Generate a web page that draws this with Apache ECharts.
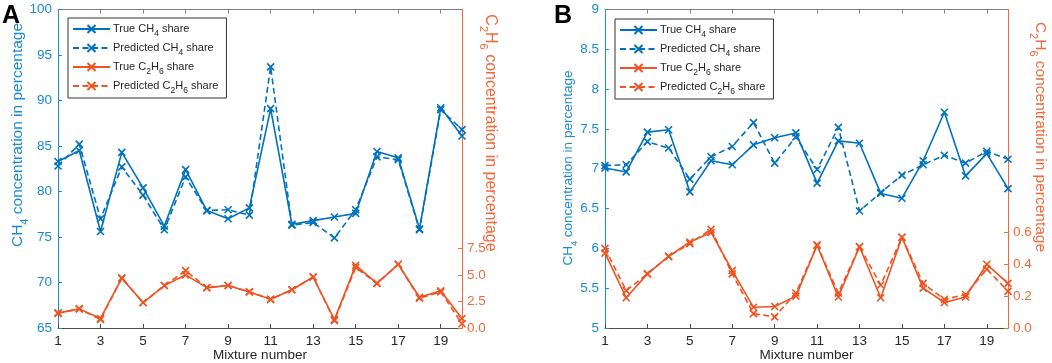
<!DOCTYPE html>
<html>
<head>
<meta charset="utf-8">
<script src="https://cdn.jsdelivr.net/npm/echarts@6/dist/echarts.min.js"></script>
<style>
html, body { margin: 0; padding: 0; background: #fff; }
#chart { width: 1052px; height: 363px; }
</style>
</head>
<body>
<div id="chart"></div>
<script>
// mixture numbers 1..20
var mixtures = ['1','2','3','4','5','6','7','8','9','10','11','12','13','14','15','16','17','18','19','20'];

// panel A
var trueCH4_A = [83.3, 84.5, 75.6, 84.3, 80.4, 76.2, 82.4, 77.9, 77.0, 78.2, 89.1, 76.4, 76.8, 77.2, 77.6, 84.4, 83.7, 75.9, 89.2, 86.1];
var predCH4_A = [82.8, 85.2, 77.0, 82.7, 79.6, 75.8, 81.6, 77.9, 78.0, 77.4, 93.7, 76.3, 76.6, 74.9, 78.0, 83.8, 83.5, 75.8, 89.0, 86.8];
var trueC2H6_A = [1.4, 1.8, 0.9, 4.7, 2.4, 4.0, 5.0, 3.8, 4.0, 3.4, 2.7, 3.6, 4.8, 0.8, 5.9, 4.2, 6.0, 2.9, 3.5, 0.9];
var predC2H6_A = [1.4, 1.8, 0.8, 4.7, 2.4, 4.0, 5.4, 3.8, 4.0, 3.4, 2.7, 3.6, 4.8, 0.7, 5.7, 4.2, 6.0, 2.8, 3.4, 0.4];

// panel B
var trueCH4_B = [7.01, 6.96, 7.46, 7.49, 6.71, 7.10, 7.05, 7.30, 7.39, 7.45, 6.82, 7.35, 7.32, 6.69, 6.63, 7.10, 7.71, 6.91, 7.19, 6.75];
var predCH4_B = [7.04, 7.05, 7.34, 7.26, 6.87, 7.15, 7.28, 7.58, 7.07, 7.40, 6.99, 7.52, 6.47, 6.70, 6.92, 7.05, 7.17, 7.07, 7.22, 7.12];
var trueC2H6_B = [0.47, 0.19, 0.34, 0.45, 0.54, 0.60, 0.36, 0.13, 0.135, 0.20, 0.52, 0.195, 0.51, 0.19, 0.57, 0.25, 0.16, 0.195, 0.40, 0.28];
var predC2H6_B = [0.50, 0.235, 0.34, 0.45, 0.53, 0.62, 0.34, 0.09, 0.07, 0.22, 0.52, 0.22, 0.51, 0.27, 0.57, 0.28, 0.18, 0.21, 0.37, 0.23];

// right axis tick labels
var rightTicks_A = [0, 2.5, 5, 7.5];
var rightTicks_B = [0, 0.2, 0.4, 0.6];

var seriesNames = ['True CH4 share', 'Predicted CH4 share', 'True C2H6 share', 'Predicted C2H6 share'];

var BLUE = '#0072BD';
var BLUE_AX = '#1a8ad4';
var ORANGE = '#EF5320';
var ORANGE_AX = '#F26A3A';
var DARK = '#262626';
var FONT = '"Liberation Sans", Arial, sans-serif';
var CROSS = 'path://M0,0L10,10M10,0L0,10';

function richName(name) {
	return name.replace('C2H6', 'C{s|2}H{s|6}').replace('CH4', 'CH{s|4}');
}

function makeSeries(name, data, xi, yi, color, dashed) {
	return {
		name : name,
		type : 'line',
		xAxisIndex : xi,
		yAxisIndex : yi,
		data : data,
		symbol : CROSS,
		symbolSize : 7,
		showSymbol : true,
		itemStyle : {
			color : color,
			borderColor : color,
			borderWidth : 1.6
		},
		lineStyle : {
			color : color,
			width : 1.6,
			type : dashed ? [6, 3.5] : 'solid'
		},
		emphasis : { disabled : true },
		animation : false
	};
}

function bottomAxis(gi) {
	return {
		type : 'category',
		gridIndex : gi,
		data : mixtures,
		boundaryGap : false,
		position : 'bottom',
		axisLine : { lineStyle : { color : '#4d4d4d', width : 1 } },
		axisTick : { inside : true, length : 4, interval : 1, lineStyle : { color : '#4d4d4d' } },
		axisLabel : { interval : 1, color : DARK, fontSize : 13.5, fontFamily : FONT, margin : 6 },
		name : 'Mixture number',
		nameLocation : 'middle',
		nameGap : 20,
		nameMoveOverlap : false,
		nameTextStyle : { color : DARK, fontSize : 13.5, fontFamily : FONT },
		splitLine : { show : false }
	};
}

function topAxis(gi) {
	return {
		type : 'category',
		gridIndex : gi,
		data : mixtures,
		boundaryGap : false,
		position : 'top',
		axisLine : { lineStyle : { color : '#808080', width : 1 } },
		axisTick : { inside : true, length : 4, interval : 1, lineStyle : { color : '#808080' } },
		axisLabel : { show : false },
		splitLine : { show : false }
	};
}

function leftAxis(gi, min, max, interval) {
	return {
		type : 'value',
		gridIndex : gi,
		position : 'left',
		min : min,
		max : max,
		interval : interval,
		axisLine : { show : true, lineStyle : { color : BLUE_AX } },
		axisTick : { show : true, inside : true, length : 4, lineStyle : { color : BLUE_AX } },
		axisLabel : { color : BLUE_AX, fontSize : 13.5, fontFamily : FONT, margin : 6 },
		splitLine : { show : false }
	};
}

function rightAxis(gi, max, ticks, digits) {
	return {
		type : 'value',
		gridIndex : gi,
		position : 'right',
		min : 0,
		max : max,
		axisLine : { show : true, lineStyle : { color : ORANGE_AX } },
		axisTick : { show : true, inside : true, length : 4, customValues : ticks, lineStyle : { color : ORANGE_AX } },
		axisLabel : {
			customValues : ticks,
			color : ORANGE_AX,
			fontSize : 13.5,
			fontFamily : FONT,
			margin : 5,
			formatter : function(v) { return Number(v).toFixed(digits); }
		},
		splitLine : { show : false }
	};
}

function legendBox(left, top) {
	return {
		orient : 'vertical',
		left : left,
		top : top,
		data : seriesNames,
		itemWidth : 37,
		itemHeight : 10,
		itemGap : 1,
		padding : [2, 8, 3, 4],
		borderColor : '#333',
		borderWidth : 1,
		backgroundColor : '#fff',
		selectedMode : false,
		formatter : richName,
		textStyle : {
			color : DARK,
			fontSize : 11,
			fontFamily : FONT,
			lineHeight : 14,
			padding : [0, 0, 0, -2],
			rich : {
				s : { fontSize : 8.5, fontFamily : FONT, color : DARK, verticalAlign : 'bottom', lineHeight : 18 }
			}
		}
	};
}

function axisTitle(x, y, rot, size, text, color) {
	return {
		type : 'text',
		x : x,
		y : y,
		rotation : rot,
		style : {
			text : text,
			fill : color,
			fontSize : size,
			fontFamily : FONT,
			lineHeight : size + 2,
			align : 'center',
			verticalAlign : 'middle',
			rich : {
				s : { fontSize : Math.round(size * 0.7), fontFamily : FONT, fill : color, verticalAlign : 'bottom', lineHeight : size + 9 }
			}
		}
	};
}

var option = {
	backgroundColor : '#fff',
	animation : false,
	grid : [
		{ left : 58, top : 9.5, width : 404, height : 318.5, outerBoundsMode : 'none', containLabel : false },
		{ left : 605, top : 9.5, width : 403, height : 318.5, outerBoundsMode : 'none', containLabel : false }
	],
	xAxis : [ bottomAxis(0), topAxis(0), bottomAxis(1), topAxis(1) ],
	yAxis : [
		leftAxis(0, 65, 100, 5),
		rightAxis(0, 30, rightTicks_A, 1),
		leftAxis(1, 5, 9, 0.5),
		rightAxis(1, 2, rightTicks_B, 1)
	],
	legend : [ legendBox(68, 18), legendBox(615, 19) ],
	series : [
		makeSeries(seriesNames[0], trueCH4_A, 0, 0, BLUE, false),
		makeSeries(seriesNames[1], predCH4_A, 0, 0, BLUE, true),
		makeSeries(seriesNames[2], trueC2H6_A, 0, 1, ORANGE, false),
		makeSeries(seriesNames[3], predC2H6_A, 0, 1, ORANGE, true),
		makeSeries(seriesNames[0], trueCH4_B, 2, 2, BLUE, false),
		makeSeries(seriesNames[1], predCH4_B, 2, 2, BLUE, true),
		makeSeries(seriesNames[2], trueC2H6_B, 2, 3, ORANGE, false),
		makeSeries(seriesNames[3], predC2H6_B, 2, 3, ORANGE, true)
	],
	graphic : [
		{ type : 'text', x : 2, y : 4, style : { text : 'A', fill : '#000', font : 'bold 25px ' + FONT } },
		{ type : 'text', x : 554, y : 4, style : { text : 'B', fill : '#000', font : 'bold 25px ' + FONT } },
		axisTitle(18, 135, Math.PI / 2, 15.5, 'CH{s|4} concentration in percentage', BLUE_AX),
		axisTitle(490, 133, -Math.PI / 2, 16, 'C{s|2}H{s|6} concentration in percentage', ORANGE_AX),
		axisTitle(568, 168, Math.PI / 2, 13.5, 'CH{s|4} concentration in percentage', BLUE_AX),
		axisTitle(1040, 137, -Math.PI / 2, 15.5, 'C{s|2}H{s|6} concentration in percentage', ORANGE_AX)
	]
};

var chart = echarts.init(document.getElementById('chart'), null, { renderer : 'canvas' });
chart.setOption(option);
</script>
</body>
</html>
